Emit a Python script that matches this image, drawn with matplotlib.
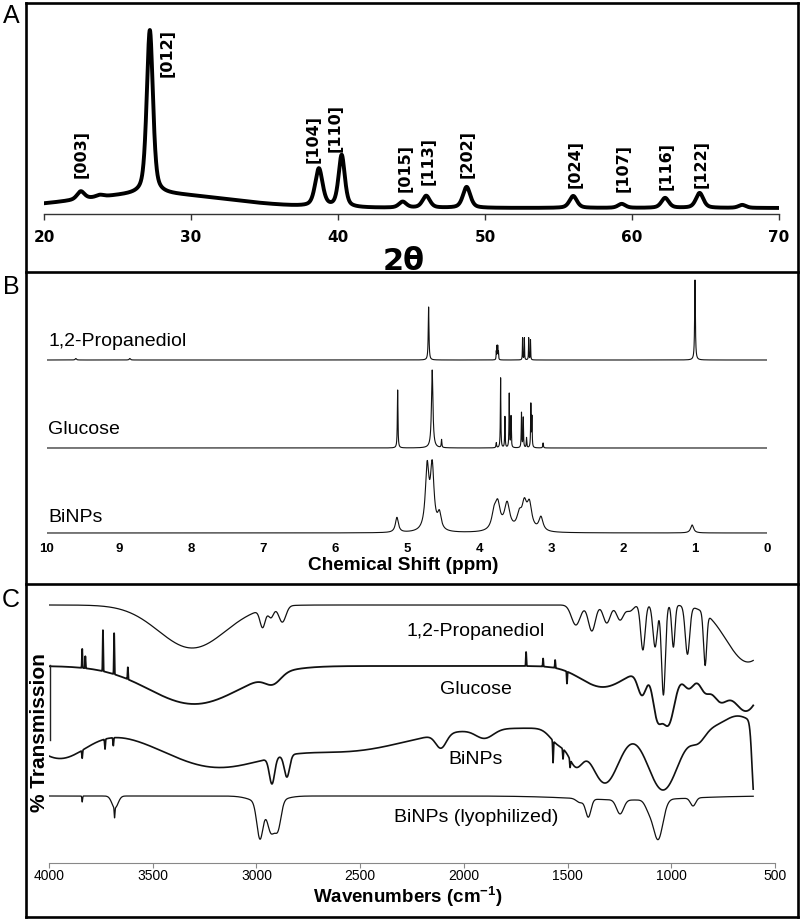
import numpy as np
import matplotlib
matplotlib.use("Agg")
import matplotlib.pyplot as plt

plt.rcParams['font.family'] = ['Liberation Sans', 'DejaVu Sans']
plt.rcParams['mathtext.fontset'] = 'custom'
plt.rcParams['mathtext.rm'] = 'Liberation Sans'
plt.rcParams['mathtext.bf'] = 'Liberation Sans:bold'

# ---------------- Panel A : XRD ----------------
xrd_hkl = ['[003]', '[012]', '[104]', '[110]', '[015]', '[113]', '[202]',
           '[024]', '[107]', '[116]', '[122]']
xrd_pos = [22.5, 27.2, 38.7, 40.25, 44.4, 46.0, 48.75, 56.0, 59.3, 62.25, 64.6]
xrd_height = [8, 164, 38, 52, 6, 12, 21, 12, 4, 10, 15]
xrd_fwhm = [0.6, 0.5, 0.6, 0.5, 0.6, 0.6, 0.6, 0.6, 0.6, 0.6, 0.6]
xrd_minor_pos = [23.8, 67.5]
xrd_minor_height = [2, 3]
xrd_level = 6
xrd_amorph = (27.5, 14, 11.8)          # centre, height, fwhm
xrd_ticks = [20, 30, 40, 50, 60, 70]
# label anchor (2theta, bottom height)
xrd_label_x = [22.5, 28.35, 38.3, 39.8, 44.6, 46.1, 48.8, 56.1, 59.4, 62.3, 64.7]
xrd_label_y = [36, 137, 51, 62, 22, 29, 36, 26, 22, 24, 26]

# ---------------- Panel B : 1H NMR ----------------
nmr_names = ['1,2-Propanediol', 'Glucose', 'BiNPs']
prop_ppm = [9.6, 8.85, 4.70, 3.76, 3.75, 3.74, 3.73, 3.395, 3.37, 3.31, 3.285, 1.00]
prop_int = [1.5, 1.5, 53, 8, 13, 13, 8, 22, 22, 22, 20, 80]
prop_hw = [0.01, 0.01, 0.006, 0.003, 0.003, 0.003, 0.003, 0.003, 0.003, 0.003, 0.003, 0.006]
gluc_ppm = [5.13, 4.65, 4.52, 3.76, 3.70, 3.64, 3.58, 3.555, 3.41, 3.385, 3.34, 3.28, 3.265, 3.11]
gluc_int = [58, 78, 8, 5, 70, 31, 54, 31, 35, 30, 10, 43, 30, 5]
gluc_hw = [0.005, 0.012, 0.005, 0.005, 0.004, 0.004, 0.004, 0.004, 0.004, 0.004, 0.004, 0.004, 0.004, 0.005]
binp_ppm = [5.14, 4.72, 4.65, 4.55, 3.79, 3.74, 3.61, 3.44, 3.37, 3.30, 3.14, 1.04]
binp_int = [15, 62, 62, 16, 16, 24, 27, 14, 24, 25, 14, 8]
binp_hw = [0.025, 0.03, 0.03, 0.03, 0.04, 0.04, 0.045, 0.04, 0.04, 0.04, 0.035, 0.025]
nmr_ticks = [10, 9, 8, 7, 6, 5, 4, 3, 2, 1, 0]

# ---------------- Panel C : FTIR ----------------
ir_names = ['1,2-Propanediol', 'Glucose', 'BiNPs', 'BiNPs (lyophilized)']
# band centre (cm-1), depth (a.u., negative = upward), fwhm (cm-1)
prop_ir_c = [3310, 2970, 2930, 2875, 1460, 1383, 1311, 1247, 1200, 1137, 1078, 1038, 990, 922, 837, 630]
prop_ir_d = [43, 18, 10, 16, 20, 26, 18, 15, 6, 45, 42, 90, 42, 48, 52, 57]
prop_ir_w = [380, 30, 30, 40, 50, 40, 40, 40, 40, 25, 25, 22, 18, 25, 18, 250]
gluc_ir_c = [3300, 2920, 3840, 3825, 3740, 3686, 3620, 1700, 1618, 1560, 1503,
             1330, 1140, 1070, 1015, 915, 840, 770, 640]
gluc_ir_d = [38, 10, -19, -12, -41, -41, -12, -14, -8, -8, 12,
             21, 25, 40, 58, 22, 20, 28, 45]
gluc_ir_w = [520, 90, 3, 3, 3, 3, 3, 3, 3, 3, 3,
             250, 50, 50, 75, 70, 60, 90, 160]
binp_ir_c = [3950, 3200, 2550, 2925, 2853, 2110, 1900, 1540, 1570, 1522, 1488,
             3840, 3730, 3690, 1460, 1320, 1040, 870, 680, 600]
binp_ir_d = [30, 38, 22, 26, 22, 14, 9, 16, 22, 10, 8,
             8, 10, 8, 30, 55, 62, 12, -12, 75]
binp_ir_w = [300, 600, 650, 30, 30, 60, 100, 100, 4, 4, 4,
             4, 4, 4, 80, 160, 170, 80, 150, 25]
lyo_ir_c = [3682, 3684, 3840, 2983, 2930, 2896, 2950, 1440, 1400, 1247, 1064, 1110, 895, 1200]
lyo_ir_d = [12, 10, 6, 36, 28, 26, 8, 4, 18, 14, 40, 8, 8, 4]
lyo_ir_w = [35, 4, 4, 35, 40, 35, 150, 40, 30, 40, 55, 40, 30, 600]
ir_ticks = [4000, 3500, 3000, 2500, 2000, 1500, 1000, 500]

# ---------------- helpers ----------------
W, H = 800, 919
fig = plt.figure(figsize=(W / 100, H / 100), dpi=100)


def axes_px(x0, y0, x1, y1):
    ax = fig.add_axes([x0 / W, 1 - y1 / H, (x1 - x0) / W, (y1 - y0) / H])
    ax.patch.set_visible(False)
    return ax


def pvoigt(x, c, h, w, eta=0.5):
    g = np.exp(-4 * np.log(2) * ((x - c) / w) ** 2)
    l = 1 / (1 + 4 * ((x - c) / w) ** 2)
    return h * (eta * l + (1 - eta) * g)


def lorentz(x, c, h, hw):
    return h / (1 + ((x - c) / hw) ** 2)


def gauss(x, c, d, w):
    return d * np.exp(-4 * np.log(2) * ((x - c) / w) ** 2)


# ---------------- Panel A ----------------
axA = axes_px(44, 10, 779, 214)
tt = np.linspace(20, 70, 6001)
yA = xrd_level + gauss(tt, *xrd_amorph)
for c, h, w in zip(xrd_pos, xrd_height, xrd_fwhm):
    yA = yA + pvoigt(tt, c, h, w)
for c, h in zip(xrd_minor_pos, xrd_minor_height):
    yA = yA + pvoigt(tt, c, h, 0.6)
axA.plot(tt, yA, color='black', lw=2.8, solid_joinstyle='round')
axA.set_xlim(20, 70)
axA.set_ylim(0, 204)
for s in ['top', 'right', 'left']:
    axA.spines[s].set_visible(False)
axA.spines['bottom'].set_linewidth(1.0)
axA.spines['bottom'].set_color('#333333')
axA.set_yticks([])
axA.set_xticks(xrd_ticks)
axA.tick_params(axis='x', direction='out', length=4.3, width=1.0, color='#333333', pad=7.5)
for lab in axA.get_xticklabels():
    lab.set_fontfamily('DejaVu Sans')
    lab.set_fontweight('bold')
    lab.set_fontsize(11)
for s, lx, ly in zip(xrd_hkl, xrd_label_x, xrd_label_y):
    axA.text(lx, ly, s, rotation=90, ha='center', va='bottom',
             fontfamily='DejaVu Sans', fontweight='bold', fontsize=11.5)

# ---------------- Panel B ----------------
axB = axes_px(47, 276, 767, 540)
pp = np.linspace(10.05, -0.01, 40001)
nmr_sets = [(prop_ppm, prop_int, prop_hw), (gluc_ppm, gluc_int, gluc_hw), (binp_ppm, binp_int, binp_hw)]
nmr_offsets = [180, 92, 7]
nmr_ranges = [(10.0, -0.01), (10.05, 0.0), (10.0, 0.0)]
for (cs, hs, ws), off, (a, b) in zip(nmr_sets, nmr_offsets, nmr_ranges):
    m = (pp <= a) & (pp >= b)
    y = np.zeros_like(pp[m])
    for c, h, w in zip(cs, hs, ws):
        y = y + lorentz(pp[m], c, h, w)
    axB.plot(pp[m], y + off, color='#111111', lw=0.8)
axB.set_xlim(10, 0)
axB.set_ylim(0, 264)
for s in axB.spines.values():
    s.set_visible(False)
axB.set_yticks([])
axB.set_xticks(nmr_ticks)
axB.set_xticklabels([str(t) for t in nmr_ticks])
axB.tick_params(axis='x', length=0, pad=2.5)
for lab in axB.get_xticklabels():
    lab.set_fontweight('bold')
    lab.set_fontsize(9.5)

# ---------------- Panel C ----------------
axC = axes_px(49, 590, 775, 863)
ww = np.linspace(4000, 605, 13581)
ir_sets = [(prop_ir_c, prop_ir_d, prop_ir_w), (gluc_ir_c, gluc_ir_d, gluc_ir_w),
           (binp_ir_c, binp_ir_d, binp_ir_w), (lyo_ir_c, lyo_ir_d, lyo_ir_w)]
ir_offsets = [258, 197, 135, 67]
ir_lw = [0.9, 1.3, 1.2, 0.9]
for (cs, ds, ws), off, lw in zip(ir_sets, ir_offsets, ir_lw):
    y = np.full_like(ww, float(off))
    for c, d, w in zip(cs, ds, ws):
        y = y - gauss(ww, c, d, w)
    axC.plot(ww, y, color='#111111', lw=lw)
axC.set_xlim(4000, 500)
axC.set_ylim(0, 273)
for s in ['top', 'right', 'left']:
    axC.spines[s].set_visible(False)
axC.spines['bottom'].set_color('#888888')
axC.spines['bottom'].set_linewidth(0.8)
axC.set_yticks([])
axC.set_xticks(ir_ticks)
axC.tick_params(axis='x', direction='out', length=3.6, width=0.8, color='#888888', pad=0.5)
for lab in axC.get_xticklabels():
    lab.set_fontsize(10)

# ---------------- Overlay: frames and texts ----------------
ax0 = fig.add_axes([0, 0, 1, 1])
ax0.patch.set_visible(False)
ax0.set_xlim(0, W)
ax0.set_ylim(H, 0)
ax0.axis('off')
fr = dict(color='black', lw=1.9, solid_capstyle='projecting')
ax0.plot([25.5, 25.5], [2.5, 916.5], **fr)
ax0.plot([797.5, 797.5], [2.5, 916.5], **fr)
for yy in [2.5, 272, 584, 916.5]:
    ax0.plot([25.5, 797.5], [yy, yy], **fr)

for s, yy in zip(['A', 'B', 'C'], [16, 287, 600]):
    ax0.text(11, yy, s, fontsize=18, ha='center', va='center')

ax0.text(404, 261, '2θ', fontsize=22, fontweight='bold', ha='center', va='center',
         fontfamily=['DejaVu Sans'])
ax0.text(403, 565, 'Chemical Shift (ppm)', fontsize=13.7, fontweight='bold',
         ha='center', va='center')
ax0.text(408, 897, r'Wavenumbers (cm$^{\mathbf{-1}}$)', fontsize=13.5,
         fontweight='bold', ha='center', va='center')
ax0.text(40, 733, '% Transmission', fontsize=15, fontweight='bold', rotation=90,
         ha='center', va='center')
ax0.plot([50, 50], [665, 740], color='#222222', lw=1.0)

for s, yy in zip(nmr_names, [342, 429, 517]):
    ax0.text(48, yy, s, fontsize=14, ha='left', va='center')
for s, yy in zip(ir_names, [632, 689, 759, 818]):
    ax0.text(476, yy, s, fontsize=14, ha='center', va='center')

fig.savefig('out.png', dpi=100)
